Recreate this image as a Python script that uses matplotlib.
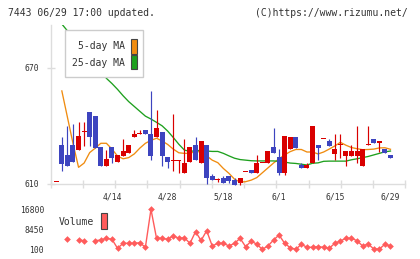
import matplotlib
matplotlib.use('Agg')
import matplotlib.pyplot as plt
import numpy as np
from matplotlib.patches import Rectangle

nan = np.nan
# ---- data ----
opens = [611, 630, 625, 630, 627.5, 636.6, 647, 645.1, 628.9, 619.4,
         628.9, 621.5, 624.4, 625.8, 634.4, 635.8, 637.9, 635.8, 634.4, 637,
         623.8, 621.9, 621.9, 615.8, 621.5, 630.1, 620.7, 630.1, 614.1, 612.1,
         613.3, 614.1, 612.1, 610.7, 616, 617.2, 615.8, 620.7, 620.7, 629.2,
         623.8, 615.8, 627.9, 634.1, 619.8, 618.4, 620.7, 630.1, 633.1, 632.2,
         625.5, 630.1, 624.6, 624.6, 624.6, 619.4, 630.1, 633.2, 631, 628.1, 625]
highs = [611, 634.3, 639.9, 641, 641.8, 642, 647, 645.1, 628.9, 627.5,
         628.9, 625, 633.1, 630.1, 637.9, 637.9, 637.9, 658, 648.2, 637,
         623.8, 646.1, 622.4, 633.1, 628.9, 634.4, 632.2, 630.1, 615, 613.3,
         614.1, 614.1, 613.3, 613.3, 616, 617.2, 625, 620.7, 627, 639.1,
         627.9, 634.8, 634.1, 634.1, 620.7, 620.7, 639.9, 630.1, 633.1, 633.1,
         635.8, 635.8, 627, 630.1, 639.9, 628.1, 639.9, 633.2, 632.2, 628.1, 625]
lows = [611, 616.9, 619.4, 621.5, 627.5, 629.5, 629.8, 628.4, 619.4, 619.4,
        620.7, 621.5, 624.4, 625.8, 634.4, 635.8, 635.6, 622.4, 634.4, 619.4,
        618.1, 616.9, 615.8, 615.8, 621.5, 622.4, 620.7, 609.8, 612.1, 610.9,
        610.7, 610.4, 609.5, 609.5, 616, 615.8, 615.8, 620.7, 620.7, 625.8,
        614.6, 614.6, 627.9, 628.7, 618.4, 618.4, 620.7, 622.4, 633.1, 629.8,
        622.4, 623.6, 619.4, 624.6, 620.7, 619.4, 630.1, 631, 626.7, 625.8, 623.6]
closes = [611, 620.3, 619.4, 621.5, 634.8, 636.6, 634.4, 628.4, 619.4, 622.9,
          623.6, 625, 627, 630.1, 635.8, 635.8, 635.6, 624.4, 638.7, 624.4,
          621.5, 621.9, 621.9, 621, 628.9, 622.4, 632.2, 612.9, 612.1, 612.1,
          610.7, 611.7, 609.5, 613.3, 616, 615.8, 621, 620.7, 627, 625.8,
          615.8, 634.8, 634.1, 628.7, 618.4, 619.8, 639.9, 628.7, 633.1, 629.8,
          628.1, 630.1, 627, 627, 627, 628.1, 630.1, 631, 632.2, 625.8, 623.6]
ma5 = [nan, 658, 644.5, 631, 618.6, 620.8, 626.2, 628.5, 631, 631,
       628, 624.4, 623, 623.6, 625.5, 628.5, 631, 632.5, 633.6, 632.2,
       630.4, 628, 626.1, 625.8, 625.8, 626.8, 626.5, 624.5, 622.3, 621,
       618, 615.5, 612.5, 611, 611.2, 612, 613.3, 615.8, 618.3, 620.8,
       623, 625, 626.7, 627.8, 627.8, 626.5, 626.5, 625.5, 626.5, 628,
       629.6, 631.5, 630, 628.8, 628.2, 627.7, 627.8, 628, 628.6, 628.7, 627.9]
ma25 = [nan, 692.5, 689, 685.5, 682, 678.5, 675, 671.5, 668, 664.5,
        661.8, 658.8, 655.5, 652.5, 650, 647.5, 645, 643.5, 641.8, 640,
        637.3, 634, 630.5, 627.5, 626.8, 627.2, 627.3, 627, 626.8, 626.8,
        625.8, 624.5, 623.3, 622.6, 622.3, 622, 621.9, 621.9, 621.9, 621.9,
        621.7, 621.3, 620.8, 620.6, 620.2, 619.8, 620.7, 620.9, 621.7, 621.8,
        621.8, 621.8, 621.8, 622.5, 623, 623.6, 624.2, 625, 625.8, 626.6, 627]
volume = [nan, nan, 4400, nan, 3980, 3690, nan, 3690, 3980, 4690,
          4275, 520, 2600, 2600, 2600, 2860, 935, 16800, 4690, 4690,
          4275, 5780, 4690, 4940, 2600, 7450, 3775, 7870, 1480, 2600,
          2600, 1480, 2600, 4690, 1190, 3565, 2190, 100, 1480, 3980,
          6070, 2600, 770, 100, 2190, 935, 935, 1190, 935, 520,
          2600, 3565, 4690, 4690, 3690, 1480, 2310, 225, 225, 2190, 1480]
date_labels = ['4/14', '4/28', '5/18', '6/1', '6/15', '6/29']
date_index = [10, 20, 30, 40, 50, 60]
price_ticks = [610, 670]
volume_ticks = [100, 8450, 16800]
header_left = '7443 06/29 17:00 updated.'
header_right = '(C)https://www.rizumu.net/'

# ---- styling ----
W, H = 420, 259
RED = '#d90000'
BLUE = '#3d44bf'
ORANGE = '#f08c10'
GREEN = '#1ea01e'
VOLC = '#ff5c5c'
GRID = '#dddddd'
TXT = '#333333'
MONO = 'DejaVu Sans Mono'

def fx(x):
    return x / W

def fy(y):
    return 1 - y / H

fig = plt.figure(figsize=(W / 100, H / 100), dpi=100, facecolor='white')

L_PX, R_PX = 50.7, 405.3
ax = fig.add_axes([fx(L_PX), fy(184), fx(R_PX) - fx(L_PX), fy(25) - fy(184)])
axv = fig.add_axes([fx(L_PX), fy(249.3), fx(R_PX) - fx(L_PX), fy(209.3) - fy(249.3)])

n = len(closes)
idx = np.arange(n)
o = np.array(opens); c = np.array(closes)
h = np.array(highs); l = np.array(lows)
up = c >= o
cols = np.where(up, RED, BLUE)

# moving averages (behind candles)
ax.plot(idx, ma5, color=ORANGE, lw=0.95, zorder=2)
ax.plot(idx, ma25, color=GREEN, lw=0.95, zorder=2)

# candles
ax.vlines(idx, l, h, colors=cols, lw=0.85, zorder=3, clip_on=False)
body_lo = np.minimum(o, c)
body_h = np.maximum(np.abs(c - o), 0.55)
ax.bar(idx, body_h, bottom=body_lo, width=0.9, color=cols, lw=0, zorder=4,
       clip_on=False)

xmin, xmax = -1.0, 62.66
ax.set_xlim(xmin, xmax)
ax.set_ylim(610, 692)
for s in ['top', 'right']:
    ax.spines[s].set_visible(False)
for s in ['left', 'bottom']:
    ax.spines[s].set_color(GRID)
    ax.spines[s].set_linewidth(1.0)
ax.set_yticks(price_ticks)
ax.set_yticklabels([str(t) for t in price_ticks], fontfamily=MONO,
                   fontsize=5.8, color=TXT)
ax.tick_params(axis='y', direction='inout', length=6, width=1, color=GRID,
               pad=5.0)
ax.set_xticks(date_index)
ax.set_xticklabels(date_labels, fontfamily=MONO, fontsize=5.8, color=TXT)
ax.tick_params(axis='x', which='major', length=0, pad=6)
ax.set_xticks(np.linspace(xmin, xmax, 12), minor=True)
ax.tick_params(axis='x', which='minor', direction='inout', length=6,
               width=1, color=GRID)

# volume
axv.plot(idx, volume, color=VOLC, lw=1.0, marker='D', ms=3.4, mew=0,
         clip_on=False)
axv.set_xlim(xmin, xmax)
axv.set_ylim(100, 16800)
for s in axv.spines.values():
    s.set_visible(False)
axv.set_xticks([])
axv.set_yticks(volume_ticks)
axv.set_yticklabels([str(t) for t in volume_ticks], fontfamily=MONO,
                    fontsize=5.8, color=TXT)
axv.tick_params(axis='y', length=0, pad=4.8)
axv.patch.set_alpha(0)

# header
fig.text(fx(8.3), fy(13.3), header_left, fontfamily=MONO, fontsize=7,
         color=TXT, ha='left', va='center')
fig.text(fx(408), fy(13.3), header_right, fontfamily=MONO, fontsize=7,
         color=TXT, ha='right', va='center')

# price legend
fig.add_artist(Rectangle((fx(65), fy(77.3)), fx(78.3), 47.3 / H,
                         transform=fig.transFigure, fc='white', ec='#cccccc',
                         lw=1.0, zorder=5))
fig.text(fx(124.5), fy(46.3), '5-day MA', fontfamily=MONO, fontsize=7,
         color=TXT, ha='right', va='center', zorder=6)
fig.text(fx(124.5), fy(62.5), '25-day MA', fontfamily=MONO, fontsize=7,
         color=TXT, ha='right', va='center', zorder=6)
fig.add_artist(Rectangle((fx(131.3), fy(53.5)), fx(6), 15 / H,
                         transform=fig.transFigure, fc=ORANGE, ec='#444444',
                         lw=0.8, zorder=6))
fig.add_artist(Rectangle((fx(131.3), fy(69)), fx(6), 14 / H,
                         transform=fig.transFigure, fc=GREEN, ec='#444444',
                         lw=0.8, zorder=6))

# volume legend
fig.text(fx(58.3), fy(222), 'Volume', fontfamily=MONO, fontsize=7,
         color=TXT, ha='left', va='center', zorder=6)
fig.add_artist(Rectangle((fx(101.3), fy(229)), fx(6), 16 / H,
                         transform=fig.transFigure, fc=VOLC, ec='#444444',
                         lw=0.8, zorder=6))

fig.savefig('out.png', dpi=100, facecolor='white')
